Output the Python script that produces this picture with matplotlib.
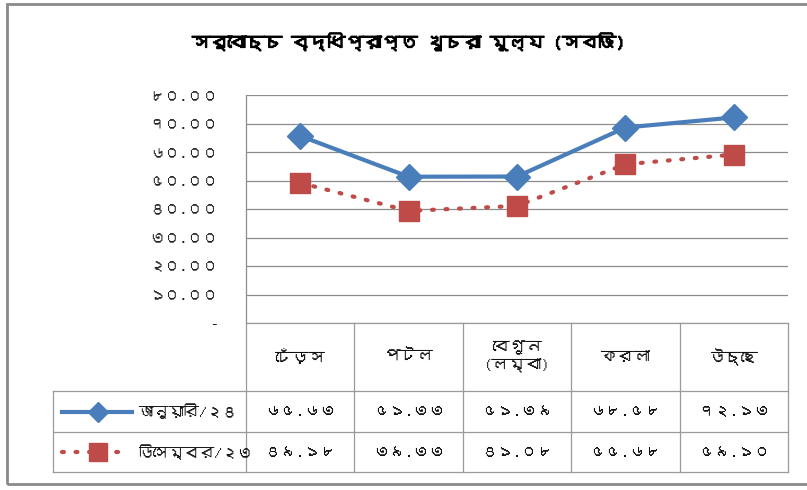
import matplotlib
matplotlib.use("Agg")
import matplotlib.pyplot as plt
from matplotlib import font_manager
from matplotlib.ft2font import FT2Font
from matplotlib.lines import Line2D
from matplotlib.patches import Rectangle
import matplotlib.transforms as mtransforms
import matplotlib.patheffects as pe

# ---------------- data ----------------
title = "সর্বোচ্চ বৃদ্ধিপ্রাপ্ত খুচরা মূল্য (সবজি)"
categories = ["ঢেঁড়স", "পটল", "বেগুন\n(লম্বা)", "করলা", "উচ্ছে"]
series_names = ["জানুয়ারি/২৪", "ডিসেম্বর/২৩"]
jan24 = [65.63, 51.33, 51.39, 68.58, 72.13]
dec23 = [49.18, 39.33, 41.08, 55.68, 59.10]
yticks = [0, 10, 20, 30, 40, 50, 60, 70, 80]

BN_DIGITS = str.maketrans("0123456789", "০১২৩৪৫৬৭৮৯")


def bn(num):
    return f"{num:.2f}".translate(BN_DIGITS)


def find_bengali_font():
    seen = set()
    for f in font_manager.fontManager.ttflist:
        if f.fname in seen:
            continue
        seen.add(f.fname)
        try:
            cmap = FT2Font(f.fname).get_charmap()
        except Exception:
            continue
        if 0x0995 in cmap and 0x09E6 in cmap:
            return f.name
    return None


bnfont = find_bengali_font()
families = ([bnfont] if bnfont else []) + ["DejaVu Sans"]
plt.rcParams["font.family"] = families

W, H = 807, 490
fig = plt.figure(figsize=(W / 100, H / 100), dpi=100)
fig.patch.set_facecolor("white")

# outer frame (right edge runs off the image, as in the reference)
fig.add_artist(Rectangle((7 / W, 1 - 484 / H), (815 - 7) / W, (484 - 4) / H,
                         transform=fig.transFigure, fill=False,
                         edgecolor="#8a8a8a", linewidth=2.0))

left, right, top, bottom = 246, 788, 95, 323
ax = fig.add_axes([left / W, 1 - bottom / H, (right - left) / W, (bottom - top) / H])

x = list(range(len(categories)))
blue = "#4a7ebb"
red = "#be4b48"
dotted = (0, (0.45, 2.8))
ax.plot(x, jan24, color=blue, linewidth=3.0, marker="D", markersize=13,
        markerfacecolor=blue, markeredgecolor=blue, zorder=3, clip_on=False)
ax.plot(x, dec23, color=red, linewidth=3.0, linestyle=dotted,
        dash_capstyle="round", marker="s", markersize=15,
        markerfacecolor=red, markeredgecolor=red, zorder=3, clip_on=False)

ax.set_xlim(-0.5, len(categories) - 0.5)
ax.set_ylim(0, 80)
ax.set_yticks(yticks)
ax.set_yticklabels(["-" if v == 0 else bn(v) for v in yticks], fontsize=11, color="#222222")
ax.set_xticks([])
ax.tick_params(axis="y", length=0, pad=20)
ax.grid(axis="y", color="#8c8c8c", linewidth=0.9)
ax.set_axisbelow(True)
for s in ["top", "right", "bottom"]:
    ax.spines[s].set_visible(False)
ax.spines["left"].set_color("#8c8c8c")
ax.spines["left"].set_linewidth(0.9)

# ---------------- data table ----------------
gc = "#9a9a9a"
ah = bottom - top
aw = right - left
r1 = -(391 - bottom) / ah
r2 = -(432 - bottom) / ah
r3 = -(472 - bottom) / ah
legx = (53 - left) / aw
ta = ax.transAxes
tb = mtransforms.blended_transform_factory(ax.transData, ax.transAxes)


def hline(x0, x1, y, tr=ta):
    ax.add_line(Line2D([x0, x1], [y, y], transform=tr, color=gc, lw=0.9, clip_on=False))


def vline(xx, y0, y1, tr=ta):
    ax.add_line(Line2D([xx, xx], [y0, y1], transform=tr, color=gc, lw=0.9, clip_on=False))


hline(0, 1, 0)
hline(legx, 1, r1)
hline(legx, 1, r2)
hline(legx, 1, r3)
vline(0, 0, r3)
vline(legx, r1, r3)
vline(1, 0, r3)
for i in range(1, len(categories)):
    vline(i - 0.5, 0, r3, tr=tb)

for i, c in enumerate(categories):
    ax.text(i, r1 / 2, c, transform=tb, ha="center", va="center", fontsize=12,
            color="#111111", linespacing=1.3)
    ax.text(i, (r1 + r2) / 2, bn(jan24[i]), transform=tb, ha="center", va="center",
            fontsize=11.5, color="#111111")
    ax.text(i, (r2 + r3) / 2, bn(dec23[i]), transform=tb, ha="center", va="center",
            fontsize=11.5, color="#111111")

# legend keys in the table
lx0 = (62 - left) / aw
lx1 = (132 - left) / aw
lxm = (98 - left) / aw
ax.add_line(Line2D([lx0, lx1], [(r1 + r2) / 2] * 2, transform=ta, color=blue, lw=3.0,
                   clip_on=False))
ax.add_line(Line2D([lxm], [(r1 + r2) / 2], transform=ta, color=blue, marker="D",
                   markersize=10, clip_on=False))
ax.add_line(Line2D([lx0, (128 - left) / aw], [(r2 + r3) / 2] * 2, transform=ta, color=red,
                   lw=3.0, linestyle=dotted, dash_capstyle="round", clip_on=False))
ax.add_line(Line2D([lxm], [(r2 + r3) / 2], transform=ta, color=red, marker="s",
                   markersize=12.5, clip_on=False))
tx = (138 - left) / aw
ax.text(tx, (r1 + r2) / 2, series_names[0], transform=ta, ha="left", va="center",
        fontsize=11, color="#111111")
ax.text(tx, (r2 + r3) / 2, series_names[1], transform=ta, ha="left", va="center",
        fontsize=11, color="#111111")

fig.text(408 / W, 1 - 42 / H, title, ha="center", va="center", fontsize=13,
         fontweight="bold", color="#000000",
         path_effects=[pe.withStroke(linewidth=0.9, foreground="#000000")])

fig.savefig("out.png", dpi=100, facecolor="white")
